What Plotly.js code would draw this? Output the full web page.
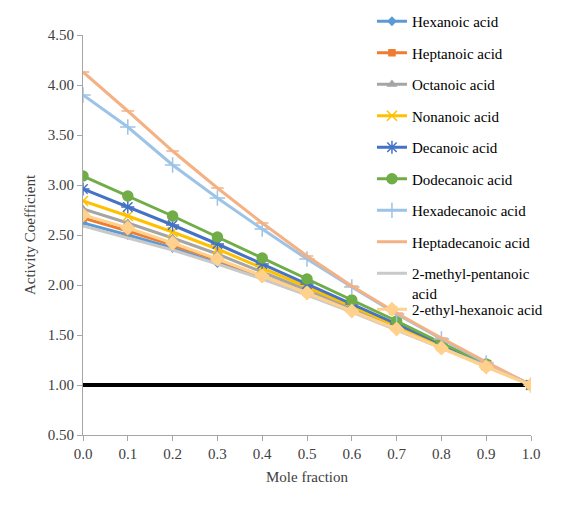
<!DOCTYPE html>
<html>
<head>
<meta charset="utf-8">
<script src="https://cdn.plot.ly/plotly-3.0.1.min.js"></script>
<style>html,body{margin:0;padding:0;background:#fff;}#chart{width:561px;height:521px;}</style>
</head>
<body>
<div id="chart"></div>
<script>
const moleFraction = [0.0, 0.1, 0.2, 0.3, 0.4, 0.5, 0.6, 0.7, 0.8, 0.9, 1.0];
const xTickLabels = ["0.0","0.1","0.2","0.3","0.4","0.5","0.6","0.7","0.8","0.9","1.0"];
const yTickValues = [0.5, 1.0, 1.5, 2.0, 2.5, 3.0, 3.5, 4.0, 4.5];
const yTickLabels = ["0.50","1.00","1.50","2.00","2.50","3.00","3.50","4.00","4.50"];

const seriesNames = ["Hexanoic acid","Heptanoic acid","Octanoic acid","Nonanoic acid","Decanoic acid","Dodecanoic acid","Hexadecanoic acid","Heptadecanoic acid","2-methyl-pentanoic<br>acid","2-ethyl-hexanoic acid"];

const hexanoic      = [2.62, 2.50, 2.37, 2.22, 2.07, 1.91, 1.74, 1.56, 1.38, 1.19, 1.00];
const heptanoic     = [2.67, 2.54, 2.40, 2.25, 2.09, 1.92, 1.75, 1.57, 1.38, 1.19, 1.00];
const octanoic      = [2.76, 2.62, 2.47, 2.31, 2.13, 1.95, 1.77, 1.58, 1.39, 1.19, 1.00];
const nonanoic      = [2.84, 2.69, 2.53, 2.36, 2.17, 1.98, 1.79, 1.59, 1.39, 1.20, 1.00];
const decanoic      = [2.96, 2.78, 2.60, 2.41, 2.21, 2.01, 1.81, 1.61, 1.41, 1.20, 1.00];
const dodecanoic    = [3.09, 2.89, 2.69, 2.48, 2.27, 2.06, 1.85, 1.64, 1.42, 1.21, 1.00];
const hexadecanoic  = [3.90, 3.58, 3.20, 2.87, 2.56, 2.26, 1.98, 1.71, 1.46, 1.22, 1.00];
const heptadecanoic = [4.13, 3.74, 3.34, 2.97, 2.62, 2.29, 1.99, 1.72, 1.47, 1.23, 1.00];
const methylPentanoic = [2.59, 2.47, 2.35, 2.21, 2.06, 1.90, 1.73, 1.55, 1.37, 1.19, 1.00];
const ethylHexanoic   = [2.70, 2.57, 2.42, 2.26, 2.09, 1.92, 1.74, 1.56, 1.37, 1.18, 1.00];

const idealLineX = [0.0, 1.0];
const idealLineY = [1.0, 1.0];

const seriesValues = [hexanoic, heptanoic, octanoic, nonanoic, decanoic, dodecanoic, hexadecanoic, heptadecanoic, methylPentanoic, ethylHexanoic];
const colors = ["#5B9BD5","#ED7D31","#A5A5A5","#FFC000","#4472C4","#70AD47","#9DC3E6","#F4B183","#C9C9C9","#FFD18C"];
const symbols = ["diamond","square","triangle-up","x-thin-open","asterisk-open","circle","cross-thin-open","line-ew-open","circle","diamond"];
const sizes = [6, 6, 7, 10, 11, 10, 11, 9, 0, 10];
const legendIds = ["legend","legend","legend","legend","legend","legend","legend","legend","legend","legend2"];

const traces = [{
  x: idealLineX, y: idealLineY, mode: "lines", showlegend: false,
  line: {color: "#000000", width: 4}, hoverinfo: "skip"
}];
seriesValues.forEach((vals, i) => {
  traces.push({
    x: moleFraction, y: vals, name: seriesNames[i],
    mode: sizes[i] > 0 ? "lines+markers" : "lines",
    legendgroup: "g" + i, legend: legendIds[i],
    line: {color: colors[i], width: 3},
    marker: {symbol: symbols[i], size: sizes[i], color: colors[i], line: {color: colors[i], width: 1.5}}
  });
});

const fam = "Liberation Serif, Times New Roman, serif";
const legendFont = {family: fam, size: 15, color: "#000"};

const layout = {
  width: 561, height: 521,
  margin: {l: 83, r: 30, t: 35, b: 86, autoexpand: false},
  paper_bgcolor: "#ffffff", plot_bgcolor: "#ffffff",
  font: {family: fam, size: 15, color: "#404040"},
  showlegend: true,
  legend: {
    x: 0.645, y: 1.075, xref: "paper", yref: "paper", xanchor: "left", yanchor: "top",
    bgcolor: "rgba(0,0,0,0)", font: legendFont, valign: "top",
    traceorder: "grouped", tracegroupgap: 9, itemwidth: 30, maxheight: 500
  },
  legend2: {
    x: 0.645, y: 0.355, xref: "paper", yref: "paper", xanchor: "left", yanchor: "top",
    bgcolor: "rgba(0,0,0,0)", font: legendFont, itemwidth: 30
  },
  xaxis: {
    range: [0, 1], tickvals: moleFraction, ticktext: xTickLabels,
    showgrid: false, zeroline: false, showline: true, linecolor: "#A6A6A6", linewidth: 1,
    ticks: "outside", ticklen: 5, tickcolor: "#A6A6A6",
    tickfont: {family: fam, size: 15, color: "#404040"},
    title: {text: "Mole fraction", font: {family: fam, size: 15, color: "#404040"}, standoff: 10}
  },
  yaxis: {
    range: [0.5, 4.5], tickvals: yTickValues, ticktext: yTickLabels,
    showgrid: false, zeroline: false, showline: true, linecolor: "#A6A6A6", linewidth: 1,
    ticks: "outside", ticklen: 5, tickcolor: "#A6A6A6",
    tickfont: {family: fam, size: 15, color: "#404040"},
    title: {text: "Activity Coefficient", font: {family: fam, size: 15, color: "#404040"}, standoff: 8}
  }
};

Plotly.newPlot("chart", traces, layout, {displayModeBar: false, staticPlot: true});
</script>
</body>
</html>
